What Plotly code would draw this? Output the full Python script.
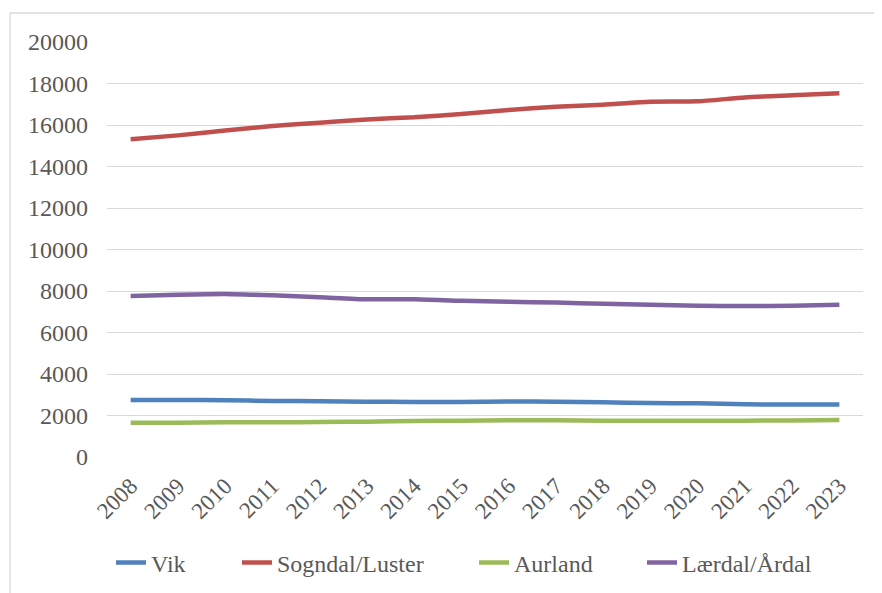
import plotly.graph_objects as go

years = [str(y) for y in range(2008, 2024)]
vik = [2750, 2750, 2740, 2700, 2690, 2665, 2650, 2650, 2680, 2665, 2635, 2600, 2590, 2540, 2525, 2525]
sogndal = [15310, 15500, 15730, 15950, 16110, 16270, 16370, 16530, 16720, 16880, 16980, 17120, 17140, 17330, 17430, 17530]
aurland = [1655, 1655, 1670, 1670, 1690, 1700, 1735, 1750, 1770, 1770, 1750, 1750, 1750, 1750, 1765, 1785]
laerdal = [7760, 7820, 7855, 7790, 7700, 7600, 7600, 7530, 7485, 7440, 7390, 7340, 7290, 7280, 7290, 7340]

names = ["Vik", "Sogndal/Luster", "Aurland", "Lærdal/Årdal"]
colors = ["#4f81bd", "#c0504d", "#9bbb59", "#8064a2"]
series = [vik, sogndal, aurland, laerdal]

W, H = 882, 593
L, R, T, B = 99, 27, 34, 144
pw, ph = W - L - R, H - T - B

def px_x(p):
    return (p - L) / pw

def px_y(p):
    return (H - B - p) / ph

font = "Times New Roman, Liberation Serif, DejaVu Serif, serif"
tcol = "#595959"

fig = go.Figure()
legend_ids = ["legend", "legend2", "legend3", "legend4"]
text_starts = [145, 271, 508, 676]  # page px where legend text begins
for n, c, s, lid in zip(names, colors, series, legend_ids):
    fig.add_trace(go.Scatter(x=years, y=s, name=n, mode="lines", legend=lid,
                             line=dict(color=c, width=4.5, shape="spline", smoothing=0.6)))

legend_cfg = {}
for lid, ts in zip(legend_ids, text_starts):
    legend_cfg[lid] = dict(orientation="h", x=px_x(ts - 42), xanchor="left",
                           y=px_y(555), yanchor="middle",
                           font=dict(family=font, size=24, color=tcol),
                           bgcolor="rgba(0,0,0,0)", borderwidth=0)

fig.update_layout(
    width=W, height=H,
    margin=dict(l=L, r=R, t=T, b=B),
    paper_bgcolor="white", plot_bgcolor="white",
    font=dict(family=font, size=22, color=tcol),
    showlegend=True,
    xaxis=dict(type="category", range=[-0.5, 15.5], showgrid=False, zeroline=False, showline=False,
               tickangle=-45, ticks="", ticklabelstandoff=10,
               tickfont=dict(family=font, size=23, color=tcol)),
    yaxis=dict(range=[0, 20000], dtick=2000, tickformat="d", showgrid=True, gridcolor="#d9d9d9",
               gridwidth=1.3, zeroline=False, showline=False, ticks="", ticklabelstandoff=18,
               tickfont=dict(family=font, size=24, color=tcol)),
    shapes=[dict(type="rect", xref="paper", yref="paper",
                 x0=px_x(2), x1=px_x(900), y0=px_y(620), y1=px_y(5),
                 line=dict(color="#d9d9d9", width=1.3), fillcolor="rgba(0,0,0,0)", layer="below")],
    **legend_cfg,
)

fig.write_html("out.html")
